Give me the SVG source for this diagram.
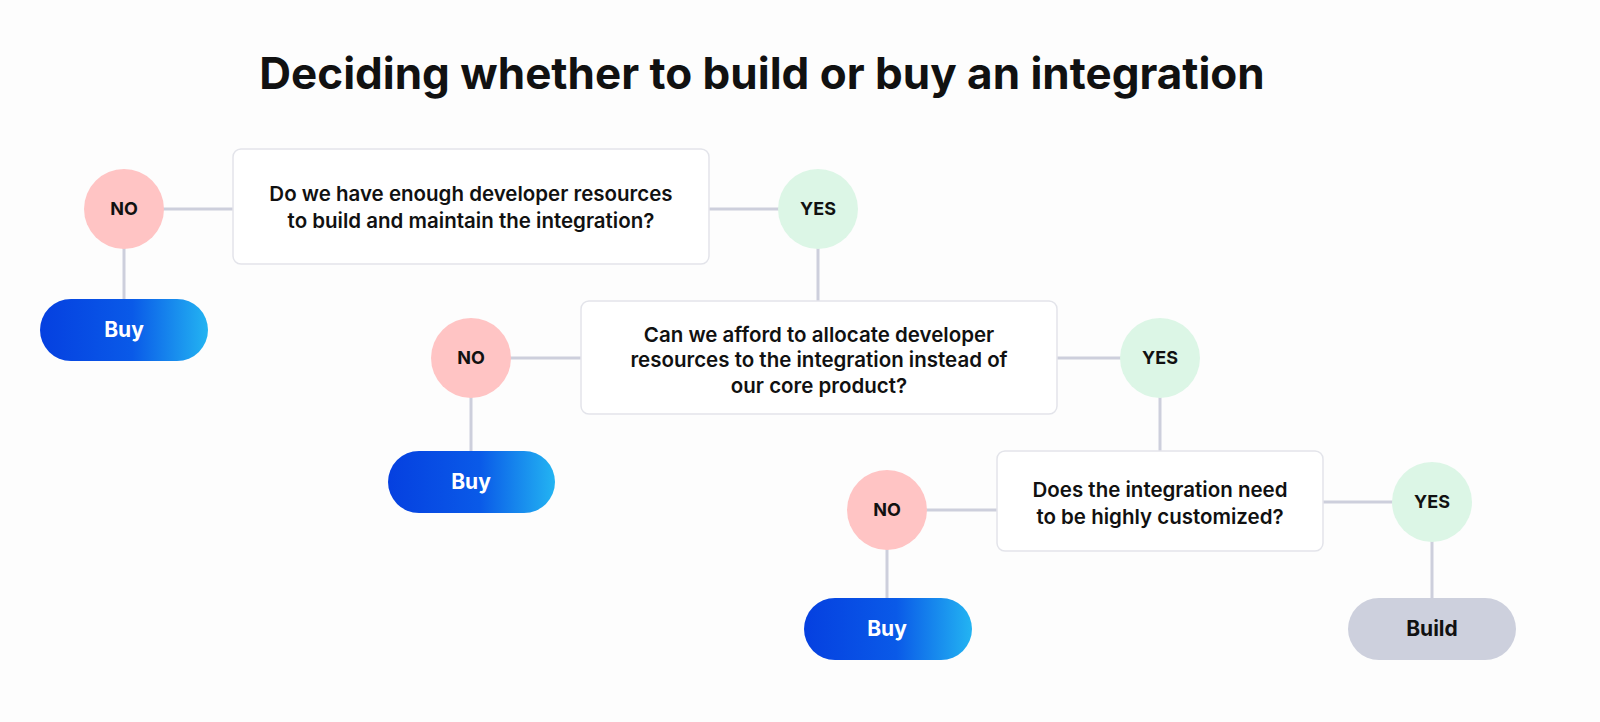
<svg xmlns="http://www.w3.org/2000/svg" width="1600" height="722" viewBox="0 0 1600 722">
<defs>
<linearGradient id="buyg" x1="0" y1="0" x2="1" y2="0">
<stop offset="0" stop-color="#0540e0"/><stop offset="0.55" stop-color="#0a5ae8"/><stop offset="1" stop-color="#23b4f2"/>
</linearGradient>
<style>
text{font-family:Inter,"Liberation Sans",sans-serif;font-weight:700;text-anchor:middle;fill:#111}
.box{fill:#fff;stroke:#e3e4ea;stroke-width:1.5}
.q{font-size:20.5px;font-weight:600}
.no{fill:#ffc4c4}
.yes{fill:#dcf6e6}
.lbl{font-size:18px}
.buy{fill:url(#buyg)}
.bt{font-size:21px;fill:#fff}
.conn line{stroke:#cdcfdc;stroke-width:3}
</style>
</defs>
<rect width="1600" height="722" fill="#fdfdfd"/>
<text x="762" y="89" font-size="44" fill="#111">Deciding whether to build or buy an integration</text>
<g class="conn">
<line x1="124" y1="209" x2="233" y2="209"/><line x1="124" y1="209" x2="124" y2="299"/>
<line x1="709" y1="209" x2="818" y2="209"/><line x1="818" y1="209" x2="818" y2="301"/>
<line x1="471" y1="358" x2="581" y2="358"/><line x1="471" y1="358" x2="471" y2="451"/>
<line x1="1057" y1="358" x2="1160" y2="358"/><line x1="1160" y1="358" x2="1160" y2="451"/>
<line x1="887" y1="510" x2="997" y2="510"/><line x1="887" y1="510" x2="887" y2="598"/>
<line x1="1323" y1="502" x2="1432" y2="502"/><line x1="1432" y1="502" x2="1432" y2="598"/>
</g>
<g id="q1"><rect class="box" x="233" y="149" width="476" height="115" rx="8"/><text class="q" x="471" y="201">Do we have enough developer resources</text><text class="q" x="471" y="228">to build and maintain the integration?</text></g>
<g id="q2"><rect class="box" x="581" y="301" width="476" height="113" rx="8"/><text class="q" x="819" y="342">Can we afford to allocate developer</text><text class="q" x="819" y="367">resources to the integration instead of</text><text class="q" x="819" y="393">our core product?</text></g>
<g id="q3"><rect class="box" x="997" y="451" width="326" height="100" rx="8"/><text class="q" x="1160" y="497">Does the integration need</text><text class="q" x="1160" y="524">to be highly customized?</text></g>
<g id="no1"><circle class="no" cx="124" cy="209" r="40"/><text class="lbl" x="124" y="215">NO</text></g>
<g id="yes1"><circle class="yes" cx="818" cy="209" r="40"/><text class="lbl" x="818" y="215">YES</text></g>
<g id="no2"><circle class="no" cx="471" cy="358" r="40"/><text class="lbl" x="471" y="364">NO</text></g>
<g id="yes2"><circle class="yes" cx="1160" cy="358" r="40"/><text class="lbl" x="1160" y="364">YES</text></g>
<g id="no3"><circle class="no" cx="887" cy="510" r="40"/><text class="lbl" x="887" y="516">NO</text></g>
<g id="yes3"><circle class="yes" cx="1432" cy="502" r="40"/><text class="lbl" x="1432" y="508">YES</text></g>
<g id="buy1"><rect class="buy" x="40" y="299" width="168" height="62" rx="31"/><text class="bt" x="124" y="337">Buy</text></g>
<g id="buy2"><rect class="buy" x="388" y="451" width="167" height="62" rx="31"/><text class="bt" x="471" y="489">Buy</text></g>
<g id="buy3"><rect class="buy" x="804" y="598" width="168" height="62" rx="31"/><text class="bt" x="887" y="636">Buy</text></g>
<g id="build"><rect x="1348" y="598" width="168" height="62" rx="31" fill="#cdd0dd"/><text class="bt" x="1432" y="636" style="fill:#111">Build</text></g>
</svg>
